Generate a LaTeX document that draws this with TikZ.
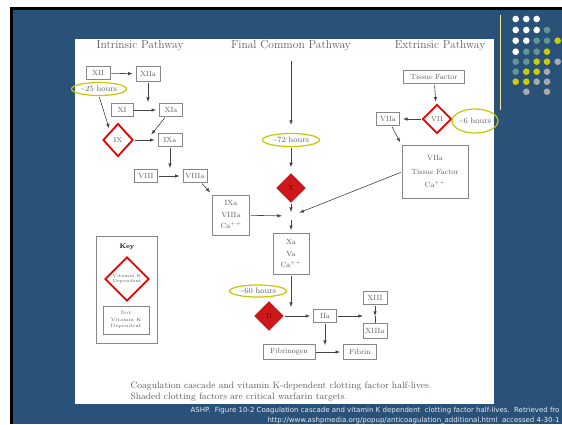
\documentclass[tikz,border=0pt]{standalone}
\usepackage{fontspec}
\newfontfamily\footfont{DejaVu Sans}
\usetikzlibrary{shapes}
\usepgflibrary{arrows}
\usepackage{amssymb}
\usepackage{amsmath}

\definecolor{slideblue}{RGB}{42,82,120}
\definecolor{hiyellow}{RGB}{200,200,0}
\definecolor{paleyellow}{RGB}{240,230,150}
\definecolor{boxgray}{RGB}{135,135,135}
\definecolor{txtgray}{RGB}{95,95,95}
\definecolor{keyred}{RGB}{235,0,0}
\definecolor{shadered}{RGB}{205,25,25}
\definecolor{dotteal}{RGB}{98,150,150}
\definecolor{dotyellow}{RGB}{204,204,0}
\definecolor{dotgray}{RGB}{170,170,170}

\begin{document}
\begin{tikzpicture}[x=1pt,y=-1pt,>=latex,
  fbox/.style={draw=boxgray, line width=0.8pt, text=txtgray, align=center,
    font=\fontsize{7.5}{9}\selectfont, inner sep=1pt, minimum width=24pt, minimum height=13pt},
  vkd/.style={diamond, draw=keyred, line width=1.8pt, fill=white, text=txtgray, align=center,
    inner sep=0pt, minimum size=30pt, font=\fontsize{7}{8}\selectfont},
  shd/.style={diamond, fill=shadered, draw=red!70!black, inner sep=0pt, minimum size=29pt,
    text=red!45!black, font=\fontsize{7}{8}\selectfont},
  hrs/.style={ellipse, draw=hiyellow, line width=1.2pt, text=txtgray, inner sep=0pt,
    font=\fontsize{8}{9}\selectfont},
  head/.style={text=txtgray, font=\fontsize{11.5}{13}\selectfont},
  captxt/.style={text=txtgray, anchor=west, font=\fontsize{9.3}{11}\selectfont},
  foot/.style={text=white!88!slideblue, anchor=east, font=\footfont\fontsize{7}{8}\selectfont},
  arr/.style={->, draw=txtgray!70!black, line width=0.6pt, shorten >=3pt, shorten <=1pt}]
\useasboundingbox (0,0) rectangle (562,424);

% slide
\fill[white] (0,0) rectangle (562,424);
\fill[black] (10,7) rectangle (562,424);
\fill[slideblue] (13,10) rectangle (562,424);
\fill[white] (75,39) rectangle (494,404);
\draw[paleyellow, line width=0.8pt] (500.5,15) -- (500.5,110);
\fill[white] (515.7,19) circle (3.3pt) (526.3,19) circle (3.3pt) (536.7,19) circle (3.3pt)
  (515.7,30) circle (3.3pt) (526.3,30) circle (3.3pt) (536.7,30) circle (3.3pt)
  (515.7,40.7) circle (3.3pt) (526.3,40.7) circle (3.3pt) (515.7,51.7) circle (3.3pt);
\fill[dotteal] (547,30) circle (3.3pt) (536.7,40.7) circle (3.3pt) (547,40.7) circle (3.3pt)
  (526.3,51.7) circle (3.3pt) (536.7,51.7) circle (3.3pt)
  (515.7,61.7) circle (3.3pt) (526.3,61.7) circle (3.3pt) (515.7,71.7) circle (3.3pt);
\fill[dotyellow] (557.7,40.7) circle (3.3pt) (547,51.7) circle (3.3pt)
  (536.7,61.7) circle (3.3pt) (547,61.7) circle (3.3pt)
  (526.3,71.7) circle (3.3pt) (536.7,71.7) circle (3.3pt)
  (515.7,81.7) circle (3.3pt) (526.3,81.7) circle (3.3pt);
\fill[dotgray] (557.7,61.7) circle (3.3pt) (547,71.7) circle (3.3pt)
  (536.7,81.7) circle (3.3pt) (547,81.7) circle (3.3pt)
  (526.3,91.7) circle (3.3pt) (547,91.7) circle (3.3pt);

% headings
\node[head] (hin) at (140,46) {Intrinsic Pathway};
\node[head] (hfc) at (291,46) {Final Common Pathway};
\node[head] (hex) at (440,46) {Extrinsic Pathway};

% intrinsic pathway
\node[fbox] (xii) at (98,73) {XII};
\node[fbox, minimum height=15pt] (xiia) at (148,74) {XIIa};
\node[hrs, minimum width=55pt, minimum height=13pt] (e25) at (99,89) {\textasciitilde 25 hours};
\node[fbox, minimum width=22pt] (xi) at (122,110) {XI};
\node[fbox, minimum width=23pt] (xia) at (171,110) {XIa};
\coordinate (jxi) at (148,110);
\node[vkd, minimum height=33pt] (ix) at (118,140) {IX};
\node[fbox] (ixa) at (170,140) {IXa};
\coordinate (jix) at (147,140);
\node[fbox, minimum width=23pt] (viii) at (146,176) {VIII};
\node[fbox] (viiia) at (195,176) {VIIIa};
\coordinate (jviii) at (170,176);
\node[fbox, minimum width=37pt, minimum height=40pt,
  font=\fontsize{7.5}{11.5}\selectfont] (ixc) at (231,215) {IXa\\VIIIa\\Ca$^{++}$};
\draw[arr] (xii) -- (xiia);
\draw[arr, shorten >=8pt] (xiia) -- (jxi);
\draw[arr] (xi) -- (xia);
\draw[arr] (e25.south) -- (ix.north west);
\draw[arr, shorten >=7pt] (xia) -- (jix);
\draw[arr] (ix) -- (ixa);
\draw[arr, shorten >=8pt] (ixa) -- (jviii);
\draw[arr] (viii) -- (viiia);
\draw[arr] (viiia) -- (ixc);

% extrinsic pathway
\node[fbox, minimum width=61pt] (tf) at (434,77) {Tissue Factor};
\node[vkd, minimum size=29pt] (vii) at (437,119) {VII};
\node[fbox, minimum width=23pt] (viia) at (388,119) {VIIa};
\node[hrs, minimum width=46pt, minimum height=24pt] (e6) at (475,121) {\textasciitilde 6 hours};
\node[fbox, minimum width=66pt, minimum height=53pt,
  font=\fontsize{7.5}{13.5}\selectfont] (vtf) at (435,172) {VIIa\\Tissue Factor\\Ca$^{++}$};
\draw[arr] (tf) -- (vii);
\draw[arr] (vii) -- (viia);
\draw[arr] (viia) -- (vtf.north west);

% final common pathway
\coordinate (fctop) at (291,60);
\node[hrs, minimum width=57pt, minimum height=13pt] (e72) at (291,140) {\textasciitilde 72 hours};
\node[shd] (xd) at (291,188) {X};
\coordinate (jx) at (291,216);
\node[fbox, minimum width=36pt, minimum height=41pt,
  font=\fontsize{7.5}{11.5}\selectfont] (xa) at (291,254) {Xa\\Va\\Ca$^{++}$};
\draw[arr, shorten >=8pt] (fctop) -- (e72);
\draw[arr, shorten >=6pt] (e72) -- (xd);
\draw[arr, shorten >=4pt] (xd) -- (jx);
\draw[arr, shorten >=9pt] (ixc) -- (jx);
\draw[arr, shorten >=9pt] (vtf.west) -- (jx);
\draw[arr, shorten <=4pt] (jx) -- (xa);

\node[hrs, minimum width=57pt, minimum height=12pt] (e60) at (258,291) {\textasciitilde 60 hours};
\node[shd] (iid) at (269,316) {II};
\coordinate (jii) at (291,316);
\node[fbox, minimum width=23pt] (iia) at (325,316) {IIa};
\coordinate (jxiii) at (375,316);
\node[fbox] (xiii) at (375,298) {XIII};
\node[fbox, minimum height=15pt] (xiiia) at (375,331) {XIIIa};
\coordinate (jfib) at (325,352);
\node[fbox, minimum width=52pt, minimum height=15pt] (fbg) at (289,352) {Fibrinogen};
\node[fbox, minimum width=33pt, minimum height=15pt] (fbn) at (360,352) {Fibrin};
\draw[arr, shorten >=9pt] (xa) -- (jii);
\draw[arr] (iid) -- (iia);
\draw[arr, shorten >=12pt] (iia) -- (jxiii);
\draw[arr, shorten >=0pt] (xiii) -- (jxiii);
\draw[draw=txtgray!70!black, line width=0.6pt] (jxiii) -- (xiiia);
\draw[arr, shorten >=7pt] (iia) -- (jfib);
\draw[arr] (fbg) -- (fbn);

% key
\node[draw=boxgray, line width=0.8pt, minimum width=61pt, minimum height=107pt] (key) at (126.5,289.5) {};
\node[text=black, font=\bfseries\fontsize{6.5}{7}\selectfont] (keyt) at (127,247) {Key};
\node[vkd, minimum size=44pt, font=\fontsize{4.5}{5.5}\selectfont] (keyd) at (127,279) {Vitamin K\\Dependent};
\node[fbox, minimum width=46pt, minimum height=28pt, font=\fontsize{4.8}{6.5}\selectfont] (keyb) at (126,320) {Not\\Vitamin K\\Dependent};

% caption
\node[captxt] (cap1) at (127,386) {Coagulation cascade and vitamin K-dependent clotting factor half-lives.};
\node[captxt] (cap2) at (127,397) {Shaded clotting factors are critical warfarin targets.};

% source
\node[foot] (src1) at (563,411) {ASHP.\ \ Figure 10-2 Coagulation cascade and vitamin K dependent\ \ clotting factor half-lives.\ \ Retrieved fro};
\node[foot] (src2) at (563,420.5) {http://www.ashpmedia.org/popup/anticoagulation\_additional.html\ \ accessed 4-30-1};
\end{tikzpicture}
\end{document}
